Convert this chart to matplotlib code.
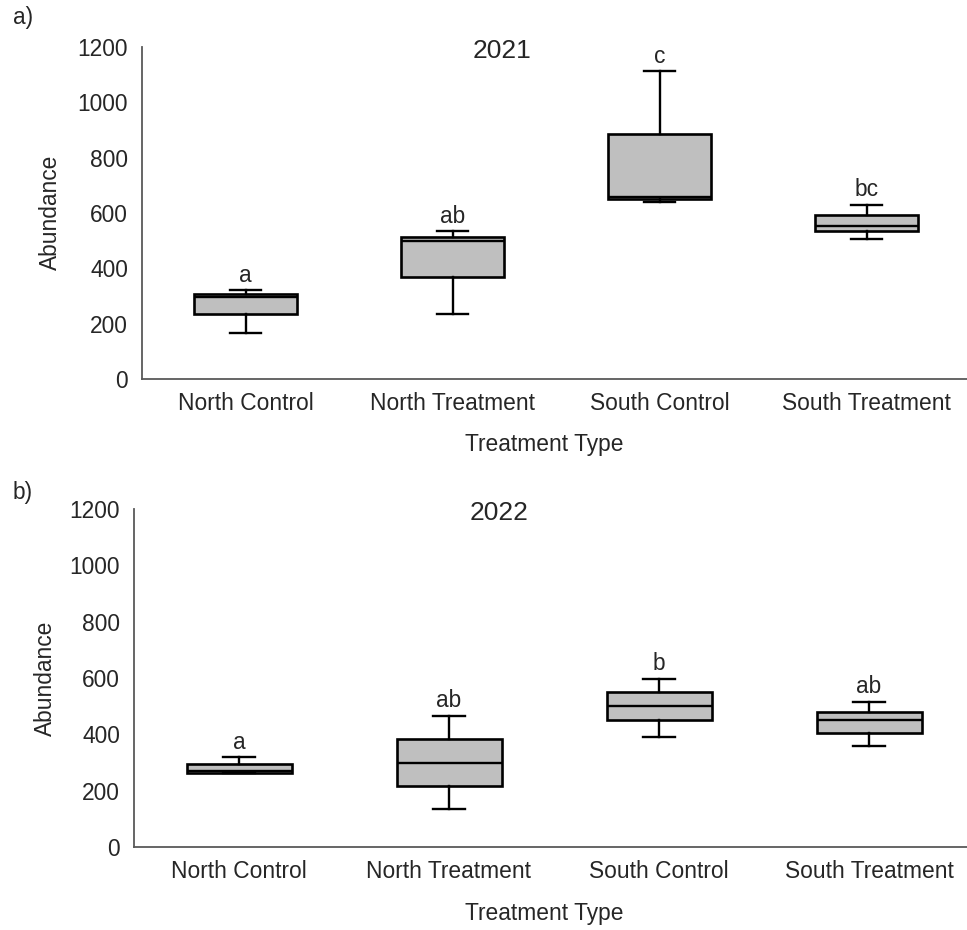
import matplotlib
matplotlib.use('Agg')
import matplotlib.pyplot as plt

# ---------------------------------------------------------------------------
# Data (box plot five-number summaries)
# ---------------------------------------------------------------------------
categories = ["North Control", "North Treatment", "South Control", "South Treatment"]

# 2021 panel
low_2021    = [168, 235, 640, 505]
q1_2021     = [235, 370, 649, 535]
median_2021 = [298, 500, 659, 552]
q3_2021     = [308, 514, 885, 593]
high_2021   = [320, 535, 1113, 630]
letters_2021 = ["a", "ab", "c", "bc"]

# 2022 panel
low_2022    = [262, 136, 389, 359]
q1_2022     = [263, 217, 450, 406]
median_2022 = [270, 299, 502, 450]
q3_2022     = [293, 383, 551, 478]
high_2022   = [318, 466, 598, 515]
letters_2022 = ["a", "ab", "b", "ab"]

yticks = [0, 200, 400, 600, 800, 1000, 1200]

# ---------------------------------------------------------------------------
# Styling
# ---------------------------------------------------------------------------
W, H = 967, 930
TEXT = '#262626'
SPINE = '#595959'
BOX_FILL = '#bfbfbf'
FS = 16.4

plt.rcParams['font.family'] = ['Liberation Sans', 'DejaVu Sans']
plt.rcParams['text.color'] = TEXT


def draw_panel(ax, low, q1, med, q3, high, letters, year):
    stats = []
    for i, name in enumerate(categories):
        stats.append({'label': name, 'whislo': low[i], 'q1': q1[i], 'med': med[i],
                      'q3': q3[i], 'whishi': high[i], 'fliers': []})
    line = dict(color='black', linewidth=1.7)
    ax.bxp(stats, positions=range(1, len(categories) + 1), widths=0.5,
           patch_artist=True, showfliers=False,
           boxprops=dict(facecolor=BOX_FILL, edgecolor='black', linewidth=1.9),
           medianprops=line, whiskerprops=line, capprops=line, capwidths=0.15)

    # significance letters above the upper whiskers
    for i, lab in enumerate(letters):
        ax.text(i + 1, high[i] + 30, lab, ha='center', va='baseline', fontsize=FS, color=TEXT)

    ax.text(2.24, 1160, year, ha='center', va='baseline', fontsize=19, color=TEXT)

    ax.set_xlim(0.5, 4.5)
    ax.set_ylim(0, 1200)
    ax.set_yticks(yticks)
    ax.set_xticks(range(1, len(categories) + 1))
    ax.set_xticklabels(categories)
    ax.tick_params(axis='both', length=0, labelsize=FS, labelcolor=TEXT)
    ax.tick_params(axis='x', pad=9)
    ax.tick_params(axis='y', pad=10)
    for side in ['top', 'right']:
        ax.spines[side].set_visible(False)
    for side in ['left', 'bottom']:
        ax.spines[side].set_color(SPINE)
        ax.spines[side].set_linewidth(1.3)
        ax.spines[side].set_clip_on(False)


fig = plt.figure(figsize=(W / 100, H / 100), dpi=100)

# top panel: x from 142px to 970px, y from 47px to 379px
ax1 = fig.add_axes([142 / W, 1 - 379 / H, 828 / W, 332 / H])
draw_panel(ax1, low_2021, q1_2021, median_2021, q3_2021, high_2021, letters_2021, "2021")

# bottom panel: x from 134px to 974px, y from 509px to 847px
ax2 = fig.add_axes([134 / W, 1 - 847 / H, 840 / W, 338 / H])
draw_panel(ax2, low_2022, q1_2022, median_2022, q3_2022, high_2022, letters_2022, "2022")

# axis titles and panel tags
fig.text(50 / W, 1 - 212 / H, "Abundance", rotation=90, ha='center', va='center', fontsize=FS)
fig.text(45 / W, 1 - 678 / H, "Abundance", rotation=90, ha='center', va='center', fontsize=FS)
fig.text(544 / W, 1 - 444 / H, "Treatment Type", ha='center', va='center', fontsize=FS)
fig.text(544 / W, 1 - 913 / H, "Treatment Type", ha='center', va='center', fontsize=FS)
fig.text(13 / W, 1 - 6 / H, "a)", ha='left', va='top', fontsize=FS)
fig.text(13 / W, 1 - 481 / H, "b)", ha='left', va='top', fontsize=FS)

fig.savefig("out.png", dpi=100)
